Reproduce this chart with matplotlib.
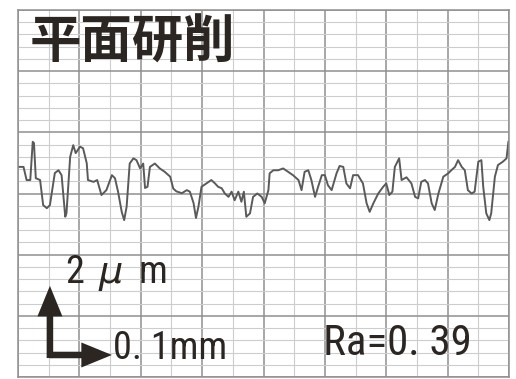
import numpy as np
import matplotlib
matplotlib.use("Agg")
import matplotlib.pyplot as plt
from matplotlib.ticker import MultipleLocator

# profile: x in mm, height in um
x_mm = [0.000, 0.009, 0.014, 0.020, 0.024, 0.026, 0.029, 0.036, 0.041, 0.047,
        0.052, 0.060, 0.066, 0.071, 0.077, 0.079, 0.085, 0.090, 0.094, 0.101,
        0.106, 0.112, 0.114, 0.123, 0.129, 0.136, 0.144, 0.153, 0.158, 0.163,
        0.169, 0.173, 0.177, 0.182, 0.188, 0.193, 0.199, 0.204, 0.207, 0.211,
        0.215, 0.223, 0.231, 0.239, 0.248, 0.253, 0.258, 0.267, 0.275, 0.280,
        0.286, 0.290, 0.294, 0.299, 0.307, 0.315, 0.321, 0.326, 0.332, 0.337,
        0.343, 0.348, 0.353, 0.359, 0.364, 0.368, 0.372, 0.378, 0.383, 0.390,
        0.397, 0.402, 0.408, 0.410, 0.416, 0.424, 0.432, 0.440, 0.448, 0.457,
        0.462, 0.467, 0.473, 0.478, 0.484, 0.489, 0.495, 0.500, 0.505, 0.511,
        0.519, 0.524, 0.530, 0.535, 0.541, 0.546, 0.554, 0.562, 0.568, 0.573,
        0.579, 0.587, 0.595, 0.600, 0.605, 0.610, 0.614, 0.621, 0.625, 0.633,
        0.641, 0.647, 0.652, 0.657, 0.663, 0.668, 0.674, 0.679, 0.685, 0.693,
        0.701, 0.706, 0.712, 0.717, 0.723, 0.728, 0.733, 0.739, 0.744, 0.750,
        0.755, 0.758, 0.763, 0.768, 0.771, 0.777, 0.782, 0.790, 0.796, 0.799]
height_um = [6.87, 6.87, 6.44, 6.44, 7.69, 7.65, 6.50, 6.44, 5.62, 5.52,
             5.62, 6.67, 6.76, 6.60, 5.24, 5.36, 7.20, 7.58, 7.32, 7.53,
             7.48, 6.99, 6.44, 6.38, 6.44, 5.95, 6.11, 6.60, 6.50, 6.06,
             5.40, 5.13, 5.57, 6.98, 7.15, 7.09, 6.82, 6.98, 6.18, 6.22,
             6.87, 6.98, 6.82, 6.71, 6.55, 6.16, 6.07, 6.01, 6.11, 6.06,
             5.69, 5.20, 5.57, 6.22, 6.33, 6.44, 6.33, 6.22, 6.17, 6.00,
             5.89, 6.06, 5.78, 6.06, 5.73, 6.06, 5.24, 5.35, 5.89, 6.00,
             5.89, 5.68, 6.11, 6.66, 6.76, 6.76, 6.82, 6.71, 6.60, 6.44,
             6.11, 6.71, 6.76, 6.44, 5.89, 6.22, 6.60, 6.60, 6.27, 6.11,
             6.66, 6.90, 6.87, 6.33, 6.17, 6.60, 6.60, 6.33, 5.68, 5.40,
             5.68, 6.00, 6.22, 6.33, 5.95, 6.06, 6.87, 7.15, 6.44, 6.53,
             6.33, 5.89, 5.84, 6.38, 6.44, 6.33, 5.68, 5.46, 6.00, 6.55,
             6.66, 6.76, 6.87, 7.09, 6.87, 6.76, 6.11, 6.00, 6.06, 7.04,
             7.09, 6.22, 5.35, 5.13, 5.35, 6.55, 6.93, 7.04, 7.15, 7.69]

title = "平面研削"
scale_y_label = r"2 $\,\mu\,$ m"
scale_x_label = "0. 1mm"
ra_label = "Ra=0. 39"

dark = "#2b2622"
narrow = ["Roboto Condensed", "DejaVu Sans Condensed", "Liberation Sans", "DejaVu Sans"]

fig = plt.figure(figsize=(5.16, 3.79), dpi=100)
ax = fig.add_axes([18 / 516, 2 / 379, 491 / 516, 367 / 379])
ax.set_xlim(0, 0.8)
ax.set_ylim(0, 12)

ax.xaxis.set_major_locator(MultipleLocator(0.1))
ax.xaxis.set_minor_locator(MultipleLocator(0.05))
ax.yaxis.set_major_locator(MultipleLocator(2))
ax.yaxis.set_minor_locator(MultipleLocator(0.4))
ax.grid(which="major", color="#909090", lw=1.1)
ax.grid(which="minor", color="#cdcdcd", lw=0.8)
ax.tick_params(which="both", length=0, labelbottom=False, labelleft=False)
for s in ax.spines.values():
    s.set_color("#909090")
    s.set_linewidth(1.1)
ax.set_axisbelow(True)

ax.plot(x_mm, height_um, color="#5a5a5a", lw=1.4, solid_joinstyle="round")

ax.text(0.0195, 10.95, title, fontsize=37, fontweight="bold", color=dark,
        family=["Noto Sans CJK JP", "DejaVu Sans"], va="center", ha="left")

# scale arrows
corner = (0.052, 0.72)
arrow = dict(arrowstyle="simple,head_length=2.2,head_width=1.8,tail_width=0.47",
             mutation_scale=10, color=dark, lw=0, shrinkA=0, shrinkB=0)
ax.annotate("", xy=(corner[0], 2.98), xytext=(corner[0], corner[1] - 0.1),
            arrowprops=arrow)
ax.annotate("", xy=(0.153, corner[1]), xytext=corner, arrowprops=arrow)

ax.text(0.0765, 3.07, scale_y_label, fontsize=27.5, color=dark, family=narrow,
        va="baseline", ha="left")
ax.text(0.155, 0.59, scale_x_label, fontsize=27.5, color=dark, family=narrow,
        va="baseline", ha="left")
ax.text(0.497, 0.72, ra_label, fontsize=31, color=dark, family=narrow,
        va="baseline", ha="left")

fig.savefig("out.png", dpi=100)
